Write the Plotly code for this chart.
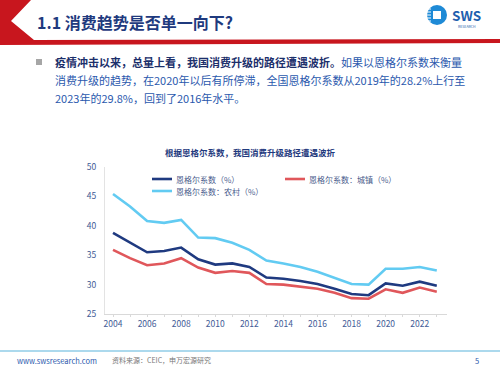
import plotly.graph_objects as go

years = list(range(2004, 2024))
national = [38.8, 37.2, 35.5, 35.7, 36.3, 34.3, 33.4, 33.6, 33.0, 31.2,
            31.0, 30.6, 30.1, 29.3, 28.4, 28.2, 30.2, 29.8, 30.5, 29.8]
urban = [35.9, 34.5, 33.3, 33.6, 34.5, 32.9, 32.0, 32.3, 32.0, 30.1,
         30.0, 29.7, 29.3, 28.6, 27.7, 27.6, 29.2, 28.6, 29.5, 28.8]
rural = [45.4, 43.3, 40.8, 40.5, 41.0, 38.0, 37.9, 37.1, 35.9, 34.1,
         33.6, 33.0, 32.2, 31.2, 30.1, 30.0, 32.7, 32.7, 33.0, 32.4]
series_names = ["恩格尔系数（%）", "恩格尔系数：城镇（%）", "恩格尔系数：农村（%）"]
series_colors = ["#1f3a80", "#e0575b", "#62cbf2"]
y_ticks = [25, 30, 35, 40, 45, 50]
x_ticks = [2004, 2006, 2008, 2010, 2012, 2014, 2016, 2018, 2020, 2022]

W, H = 500, 368
L, R, T, B = 105, 53, 167, 54
PW, PH = W - L - R, H - T - B


def px(x):
    return (x - L) / PW


def py(y):
    return (H - B - y) / PH


FONT = "Noto Sans CJK SC"

fig = go.Figure()
for name, vals, col in zip(series_names, [national, urban, rural], series_colors):
    fig.add_trace(go.Scatter(x=years, y=vals, mode="lines", name=name,
                             line=dict(color=col, width=2.6), showlegend=False))

shapes = []
ann = []


def text(x, y, s, size, color, anchor="left", bold=False):
    ann.append(dict(x=px(x), y=py(y), xref="paper", yref="paper",
                    text=("<b>%s</b>" % s) if bold else s, showarrow=False,
                    xanchor=anchor, yanchor="middle",
                    font=dict(family=FONT, size=size, color=color)))


# header red chevron + band
hdr = "M {} {} L {} {} L {} {} L {} {} L {} {} L {} {} L {} {} Z".format(
    px(0), py(0), px(31), py(0), px(11), py(21), px(34), py(40),
    px(500), py(39), px(500), py(43), px(0), py(45))
shapes.append(dict(type="path", path=hdr, xref="paper", yref="paper",
                   fillcolor="#c8161e", line=dict(width=0), layer="above"))
# logo icon
shapes.append(dict(type="circle", xref="paper", yref="paper",
                   x0=px(427), x1=px(447), y0=py(5), y1=py(25),
                   fillcolor="#1e8ad6", line=dict(width=0)))
shapes.append(dict(type="rect", xref="paper", yref="paper",
                   x0=px(433), x1=px(441), y0=py(11), y1=py(19),
                   fillcolor="white", line=dict(width=0)))
for yy in [9, 12, 15, 18, 21]:
    shapes.append(dict(type="line", xref="paper", yref="paper",
                       x0=px(425), x1=px(431), y0=py(yy), y1=py(yy),
                       line=dict(color="white", width=1)))
# bullet
shapes.append(dict(type="rect", xref="paper", yref="paper",
                   x0=px(36), x1=px(42), y0=py(59), y1=py(65),
                   fillcolor="#a6a6a6", line=dict(width=0)))
# footer line
shapes.append(dict(type="line", xref="paper", yref="paper",
                   x0=px(0), x1=px(500), y0=py(351), y1=py(351),
                   line=dict(color="#5ab4dc", width=1.2)))

# manual legend (two rows)
legend_pos = [(152, 179), (285, 179), (152, 191)]
for (lx, ly), name, col in zip(legend_pos, series_names, series_colors):
    shapes.append(dict(type="line", xref="paper", yref="paper",
                       x0=px(lx), x1=px(lx + 20), y0=py(ly), y1=py(ly),
                       line=dict(color=col, width=2.6)))
    text(lx + 22, ly, name, 8, "#4a5c8c")

text(35, 22, "1.1 消费趋势是否单一向下?", 16, "#1f3a7e", bold=True)
text(450, 15, "SWS", 13.5, "#1f5fae", bold=True)
text(467, 26, "RESEARCH", 3.5, "#1f5fae", anchor="center")
text(53, 62, "<b>疫情冲击以来，总量上看，我国消费升级的路径遭遇波折。</b>"
     "<span style='color:#2a58ad'>如果以恩格尔系数来衡量</span>", 11, "#1c2f6b")
text(53, 80, "消费升级的趋势，在2020年以后有所停滞，全国恩格尔系数从2019年的28.2%上行至",
     11, "#2a58ad")
text(53, 98, "2023年的29.8%，回到了2016年水平。", 11, "#2a58ad")
text(250, 152, "根据恩格尔系数，我国消费升级路径遭遇波折", 8.5, "#1f3a7e",
     anchor="center", bold=True)
text(15, 360, "www.swsresearch.com", 7.5, "#2a58ad")
text(110, 360, "资料来源：CEIC，申万宏源研究", 7, "#777777")
text(477, 360, "5", 7.5, "#2a58ad", anchor="center")

fig.update_layout(
    width=W, height=H, margin=dict(l=L, r=R, t=T, b=B, autoexpand=False),
    paper_bgcolor="white", plot_bgcolor="white",
    font=dict(family=FONT, size=8.5, color="#3f5b96"),
    shapes=shapes, annotations=ann,
    showlegend=False,
    xaxis=dict(range=[2003.53, 2023.6], tickvals=x_ticks,
               ticktext=[str(v) for v in x_ticks], showgrid=False,
               showline=True, linecolor="#d9d9d9", linewidth=1,
               ticks="outside", ticklen=2, tickcolor="#d9d9d9",
               minor=dict(dtick=1, tick0=2004, ticks="outside", ticklen=2,
                          tickcolor="#d9d9d9"),
               tickfont=dict(size=8.5, color="#3f5b96"), zeroline=False),
    yaxis=dict(range=[25, 50], tickvals=y_ticks, showgrid=False,
               showline=True, linecolor="#e3e3e3", linewidth=1,
               ticks="", tickfont=dict(size=8.5, color="#3f5b96"),
               zeroline=False, ticklabelstandoff=6),
)

fig.write_html("out.html", config={"displayModeBar": False},
               post_script="document.body.style.margin='0';"
                           "document.body.style.overflow='hidden';")
